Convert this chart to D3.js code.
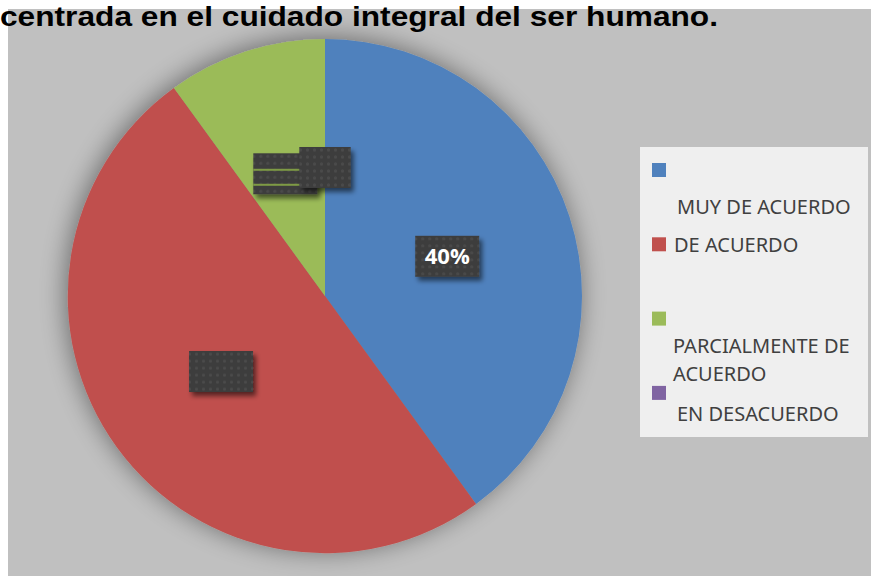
<!DOCTYPE html>
<html>
<head>
<meta charset="utf-8">
<script src="https://cdn.jsdelivr.net/npm/d3@7"></script>
<style>
  body { margin: 0; background: #fff; }
  svg { display: block; }
</style>
</head>
<body>
<div id="chart"></div>
<script>
// datos del grafico
var categorias = ["MUY DE ACUERDO", "DE ACUERDO", "PARCIALMENTE DE ACUERDO", "EN DESACUERDO"];
var valores = [40, 50, 10, 0];
var etiquetas = ["40%", "50%", "10%", "0%"];
var etiquetaVisible = [true, false, false, false];
var colores = ["#4f81bd", "#c0504d", "#9bbb59", "#8064a2"];
var lineasLeyenda = [["", "MUY DE ACUERDO"], ["DE ACUERDO"], ["", "PARCIALMENTE DE", "ACUERDO"], ["", "EN DESACUERDO"]];
var titulo = "centrada en el cuidado integral del ser humano.";

var w = 871, h = 576;
var cx = 325, cy = 296, r = 257;

var svg = d3.select("#chart").append("svg")
    .attr("width", w)
    .attr("height", h);

var defs = svg.append("defs");

// sombra del pastel
var fPie = defs.append("filter").attr("id", "sombraPie")
    .attr("x", "-30%").attr("y", "-30%").attr("width", "160%").attr("height", "160%");
fPie.append("feGaussianBlur").attr("in", "SourceAlpha").attr("stdDeviation", 13).attr("result", "b");
fPie.append("feOffset").attr("in", "b").attr("dx", -2).attr("dy", -2).attr("result", "o");
fPie.append("feComponentTransfer").attr("in", "o").attr("result", "s")
    .append("feFuncA").attr("type", "linear").attr("slope", 0.45);
var mPie = fPie.append("feMerge");
mPie.append("feMergeNode").attr("in", "s");
mPie.append("feMergeNode").attr("in", "SourceGraphic");

// sombra de las etiquetas
var fLab = defs.append("filter").attr("id", "sombraLab")
    .attr("x", "-30%").attr("y", "-30%").attr("width", "160%").attr("height", "160%");
fLab.append("feGaussianBlur").attr("in", "SourceAlpha").attr("stdDeviation", 2.5).attr("result", "b");
fLab.append("feOffset").attr("in", "b").attr("dx", 3).attr("dy", 4).attr("result", "o");
fLab.append("feComponentTransfer").attr("in", "o").attr("result", "s")
    .append("feFuncA").attr("type", "linear").attr("slope", 0.55);
var mLab = fLab.append("feMerge");
mLab.append("feMergeNode").attr("in", "s");
mLab.append("feMergeNode").attr("in", "SourceGraphic");

// textura de puntos
var pat = defs.append("pattern").attr("id", "puntos")
    .attr("patternUnits", "userSpaceOnUse").attr("width", 7).attr("height", 7);
pat.append("rect").attr("width", 7).attr("height", 7).attr("fill", "#3d3d3d");
pat.append("circle").attr("cx", 3.5).attr("cy", 3.5).attr("r", 1.6).attr("fill", "#4b4b4b");

// fondo gris
svg.append("rect")
    .attr("x", 8).attr("y", 9)
    .attr("width", w - 8).attr("height", h - 9)
    .attr("fill", "#c0c0c0");

// titulo
svg.append("text")
    .attr("x", 0).attr("y", 26)
    .attr("font-family", "'Liberation Sans', Arial, sans-serif")
    .attr("font-weight", "bold")
    .attr("font-size", "28px")
    .attr("textLength", 718)
    .attr("lengthAdjust", "spacingAndGlyphs")
    .attr("fill", "#000")
    .text(titulo);

// pastel
var pie = d3.pie().sort(null).value(function(d) { return d; });
var arcos = pie(valores);
var arc = d3.arc().innerRadius(0).outerRadius(r);

var g = svg.append("g").attr("transform", "translate(" + cx + "," + cy + ")");

g.append("g").attr("filter", "url(#sombraPie)")
    .selectAll("path")
    .data(arcos)
    .enter()
    .append("path")
    .attr("d", arc)
    .attr("fill", function(d, i) { return colores[i]; });

// etiquetas de datos
var tmp = g.append("text")
    .attr("font-family", "'Open Sans', sans-serif")
    .attr("font-weight", "bold")
    .attr("font-size", "22px");
var anchos = etiquetas.map(function(t) {
    tmp.text(t);
    return tmp.node().getComputedTextLength();
});
tmp.remove();

var labs = g.selectAll("g.lab")
    .data(arcos)
    .enter()
    .append("g")
    .attr("class", "lab")
    .attr("transform", function(d) {
        var c = arc.centroid(d);
        return "translate(" + c[0] + "," + c[1] + ")";
    });

labs.append("rect")
    .attr("x", function(d, i) { return -(anchos[i] + 19) / 2; })
    .attr("y", -20.5)
    .attr("width", function(d, i) { return anchos[i] + 19; })
    .attr("height", 41)
    .attr("fill", "url(#puntos)")
    .attr("filter", "url(#sombraLab)");

// rayas en la etiqueta verde
labs.filter(function(d, i) { return i === 2; })
    .selectAll("rect.raya")
    .data([-5, 10])
    .enter()
    .append("rect")
    .attr("class", "raya")
    .attr("x", function() { return -(anchos[2] + 19) / 2; })
    .attr("y", function(d) { return d; })
    .attr("width", anchos[2] + 19)
    .attr("height", 2)
    .attr("fill", "#7e9a45");

labs.filter(function(d, i) { return etiquetaVisible[i]; })
    .append("text")
    .attr("text-anchor", "middle")
    .attr("y", 8)
    .attr("font-family", "'Open Sans', sans-serif")
    .attr("font-weight", "bold")
    .attr("font-size", "22px")
    .attr("fill", "#fff")
    .text(function(d) { return etiquetas[d.index]; });

// leyenda
var ley = svg.append("g");
ley.append("rect")
    .attr("x", 640).attr("y", 147)
    .attr("width", 228).attr("height", 290)
    .attr("fill", "#efefef");

var paso = 74.3;
var items = ley.selectAll("g.item")
    .data(categorias)
    .enter()
    .append("g")
    .attr("class", "item")
    .attr("transform", function(d, i) { return "translate(652," + (163 + i * paso) + ")"; });

items.append("rect")
    .attr("width", 14).attr("height", 14)
    .attr("fill", function(d, i) { return colores[i]; });

var bases = [51, 15, 41, 35];
var desp = [25, 22, 21, 25];
items.each(function(d, i) {
    var lineas = lineasLeyenda[i];
    var t = d3.select(this).append("text")
        .attr("font-family", "'Noto Sans', sans-serif")
        .attr("font-size", "20px")
        .attr("fill", "#404040");
    lineas.forEach(function(l, j) {
        if (j === 0 && l === "") return;
        var off = lineas[0] === "" ? j - 1 : j;
        t.append("tspan")
            .attr("x", desp[i])
            .attr("y", bases[i] + off * 28)
            .text(l);
    });
});
</script>
</body>
</html>
